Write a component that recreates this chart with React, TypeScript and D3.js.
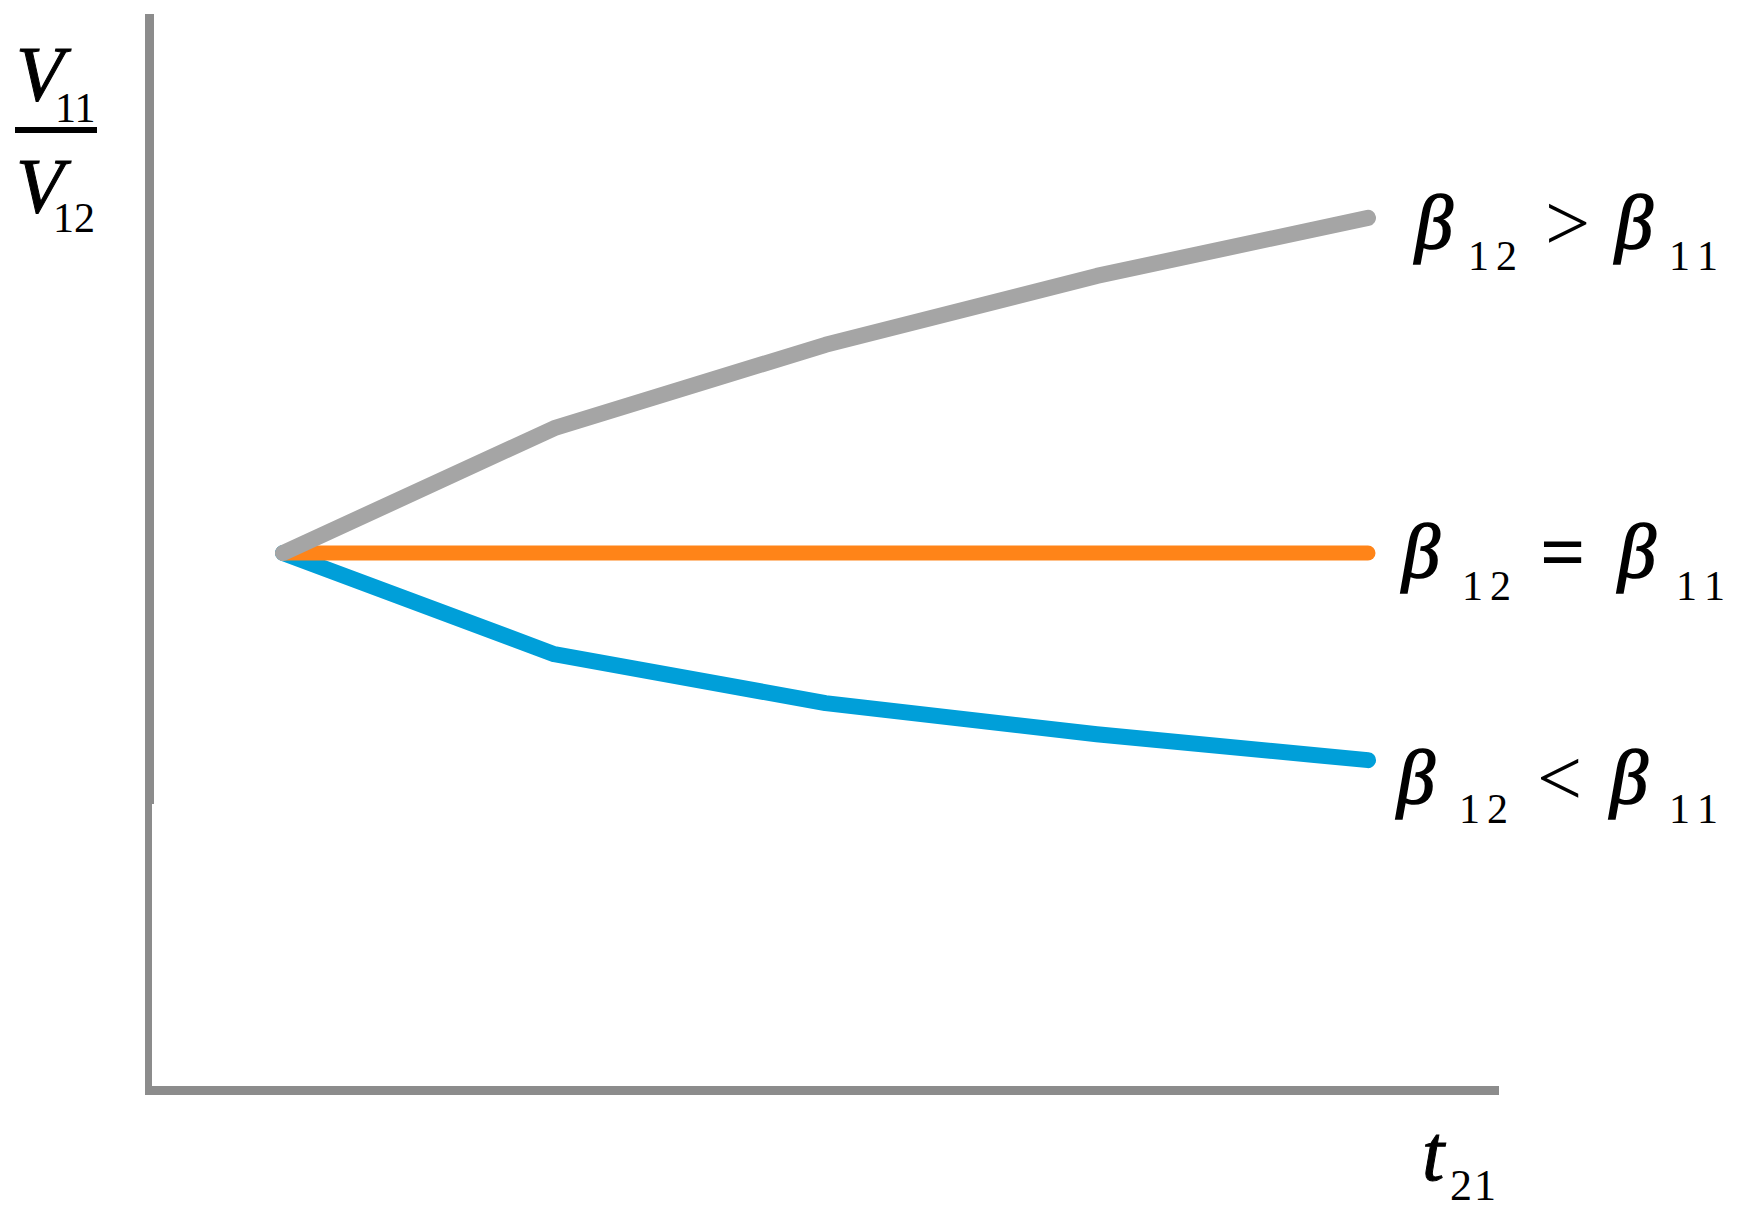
import React from 'react';
import * as d3 from 'd3';

// t21 steps and the V11/V12 ratio for each case
const steps = [0, 1, 2, 3, 4];
const ratioGreater = [1.0, 1.232, 1.387, 1.515, 1.623];
const ratioEqual = [1.0, 1.0, 1.0, 1.0, 1.0];
const ratioLess = [1.0, 0.812, 0.721, 0.663, 0.615];
const relations = ['>', '=', '<'];

const W = 1737;
const H = 1213;
const serif = '"Liberation Serif", "DejaVu Serif", serif';
const axisColor = '#8c8c8c';

// label placement per series (top, middle, bottom)
const labelLayout = [
  { x: 1415, base: 248, sub: [1468, 1496], op: 1545, b2: 1615, sub2: [1669, 1697], subBase: 270 },
  { x: 1402, base: 577, sub: [1462, 1490], op: 1540, b2: 1618, sub2: [1676, 1704], subBase: 600 },
  { x: 1397, base: 803, sub: [1459, 1487], op: 1537, b2: 1610, sub2: [1669, 1697], subBase: 823 },
];

const App = () => {
  const x = d3.scaleLinear().domain([0, 4]).range([283, 1368]);
  const y = d3.scaleLinear().domain([0, 2]).range([1091, 15]);

  const line = d3.line<number>()
    .x((_, i) => x(steps[i]))
    .y(d => y(d));

  const series = [
    { values: ratioGreater, color: '#a5a5a5', width: 16, rel: relations[0], lay: labelLayout[0] },
    { values: ratioEqual, color: '#ff8418', width: 15, rel: relations[1], lay: labelLayout[1] },
    { values: ratioLess, color: '#009fd9', width: 16, rel: relations[2], lay: labelLayout[2] },
  ];
  // blue under orange under gray
  const drawOrder = [2, 1, 0];

  return (
    <svg width={W} height={H} style={{ position: 'absolute', left: 0, top: 0, background: '#fff' }}>
      {/* axes */}
      <rect x={145} y={14} width={9} height={790} fill={axisColor} />
      <rect x={145} y={804} width={7} height={291} fill={axisColor} />
      <rect x={145} y={1086} width={1354} height={9} fill={axisColor} />

      {drawOrder.map(i => (
        <path key={i} d={line(series[i].values) || ''} fill="none"
          stroke={series[i].color} strokeWidth={series[i].width}
          strokeLinecap="round" strokeLinejoin="round" />
      ))}

      {/* series labels */}
      {series.map((s, i) => (
        <g key={i} fill="#000" fontFamily={serif}>
          <text x={s.lay.x} y={s.lay.base} fontSize={76} fontStyle="italic"
            stroke="#000" strokeWidth={1.6}>β</text>
          <text y={s.lay.subBase} fontSize={42}>
            {'12'.split('').map((c, j) => <tspan key={j} x={s.lay.sub[j]}>{c}</tspan>)}
          </text>
          <text x={s.lay.op} y={s.lay.base + 2} fontSize={80}
            fontWeight={s.rel === '=' ? 'bold' : 'normal'}>{s.rel}</text>
          <text x={s.lay.b2} y={s.lay.base} fontSize={76} fontStyle="italic"
            stroke="#000" strokeWidth={1.6}>β</text>
          <text y={s.lay.subBase} fontSize={42}>
            {'11'.split('').map((c, j) => <tspan key={j} x={s.lay.sub2[j]}>{c}</tspan>)}
          </text>
        </g>
      ))}

      {/* y axis title: V11 / V12 */}
      <g fontFamily={serif} fill="#000">
        <text x={16} y={100} fontSize={78} fontStyle="italic" stroke="#000" strokeWidth={1}>V</text>
        <text x={55} y={122} fontSize={42}>11</text>
        <rect x={15} y={127} width={82} height={6} fill="#000" />
        <text x={16} y={212} fontSize={78} fontStyle="italic" stroke="#000" strokeWidth={1}>V</text>
        <text x={53} y={232} fontSize={42}>12</text>
      </g>

      {/* x axis title: t21 */}
      <g fontFamily={serif} fill="#000">
        <text x={1422} y={1180} fontSize={80} fontStyle="italic" stroke="#000" strokeWidth={1}>t</text>
        <text x={1450} y={1200} fontSize={44} letterSpacing={2}>21</text>
      </g>
    </svg>
  );
};

export default App;
